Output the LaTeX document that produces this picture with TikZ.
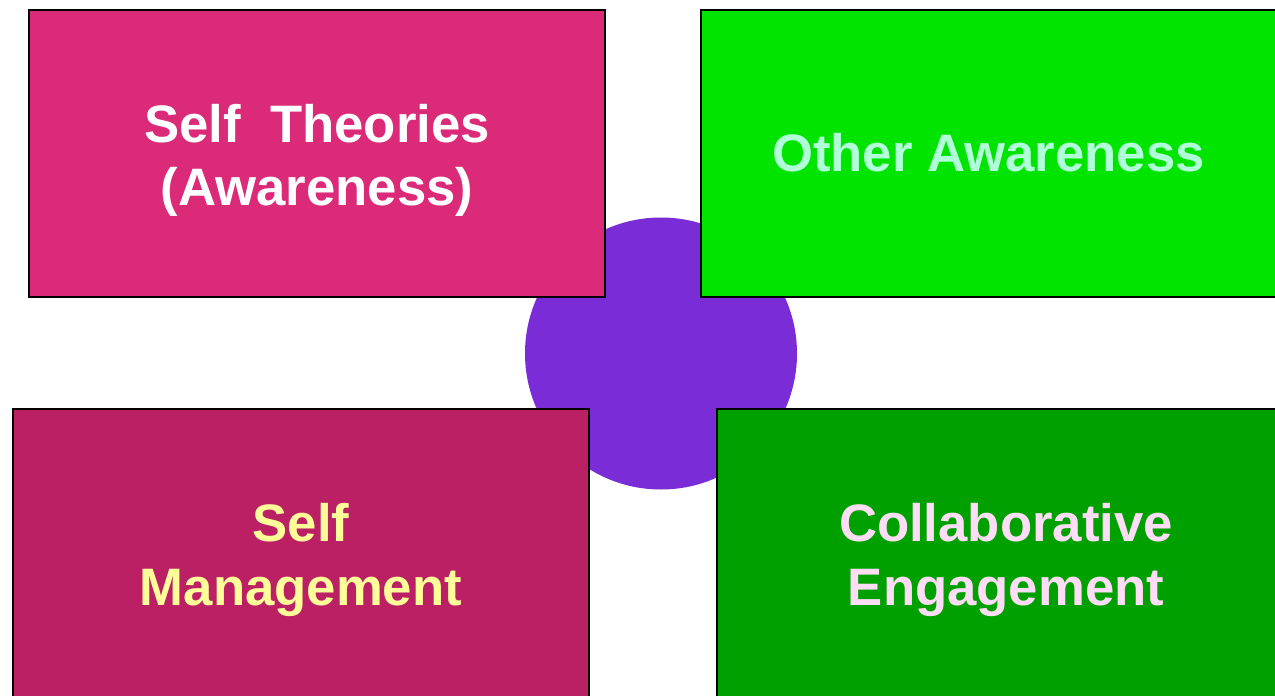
\documentclass[tikz,border=0pt]{standalone}
\usepackage{fontspec}
\setmainfont{Liberation Sans}
\usepackage{xcolor}
\definecolor{selfpink}{RGB}{218,42,120}
\definecolor{selfplum}{RGB}{187,32,101}
\definecolor{otherlime}{RGB}{0,228,0}
\definecolor{collabgreen}{RGB}{0,160,0}
\definecolor{hubpurple}{RGB}{122,45,214}
\definecolor{mint}{RGB}{176,255,216}
\definecolor{paleyellow}{RGB}{255,255,153}
\definecolor{palepink}{RGB}{255,221,247}

\begin{document}
\begin{tikzpicture}[x=1pt,y=-1pt,
            quad/.style={shape=rectangle, draw=black, line width=2pt, inner sep=0pt},
            tag/.style={inner sep=0pt, align=center, font=\fontsize{52.7}{63.5}\selectfont\bfseries},
            hub/.style={shape=circle, fill=hubpurple, inner sep=0pt, minimum size=272pt}]
        \clip (0,0) rectangle (1275,696);
        \fill[white] (0,0) rectangle (1275,696);

        \node[hub] (core) at (661,353.5) {};

        % four quadrants
        \node[quad, fill=selfpink, minimum width=576pt, minimum height=287pt] (theories) at (317,153.5) {};
        \node[quad, fill=otherlime, minimum width=579pt, minimum height=287pt] (other) at (990.5,153.5) {};
        \node[quad, fill=selfplum, minimum width=576pt, minimum height=302pt] (manage) at (301,560) {};
        \node[quad, fill=collabgreen, minimum width=578pt, minimum height=302pt] (collab) at (1006,560) {};

        \node[tag, text=white] (theoriestext) at ([yshift=-7pt]theories.center) {Self\ \ Theories\\(Awareness)};
        \node[tag, text=mint] (othertext) at ([xshift=-2pt,yshift=1pt]other.center) {Other Awareness};
        \node[tag, text=paleyellow] (managetext) at (manage.center) {Self\\Management};
        \node[tag, text=palepink] (collabtext) at (collab.center) {Collaborative\\Engagement};
    \end{tikzpicture}
\end{document}
